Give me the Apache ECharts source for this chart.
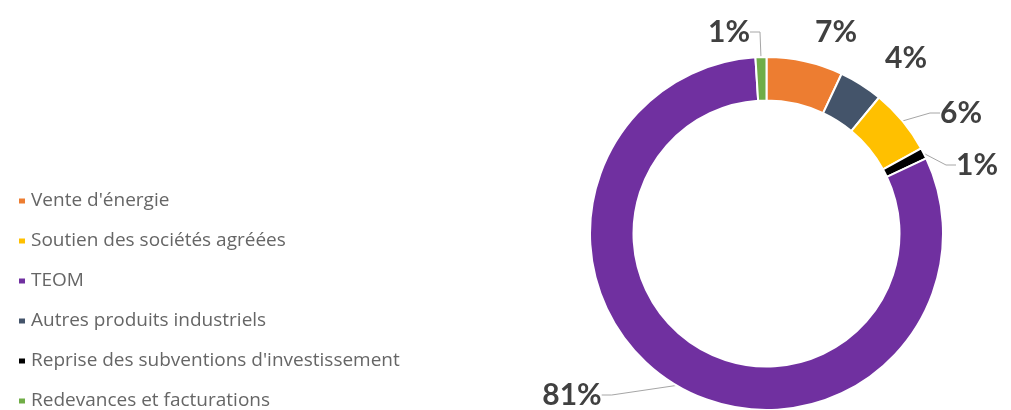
<!DOCTYPE html>
<html>
<head>
<meta charset="utf-8">
<script src="https://cdn.jsdelivr.net/npm/echarts@6/dist/echarts.min.js"></script>
<style>
  html, body { margin: 0; padding: 0; background: #ffffff; }
  #chart { width: 1011px; height: 410px; }
</style>
</head>
<body>
<div id="chart"></div>
<script>
// Slice order as drawn clockwise from 12 o'clock
const categories = [
  "Vente d'énergie",
  "Autres produits industriels",
  "Soutien des sociétés agréées",
  "Reprise des subventions d'investissement",
  "TEOM",
  "Redevances et facturations"
];
const values = [7, 4, 6, 1, 81, 1];
const colors = ["#ED7D31", "#44546A", "#FFC000", "#000000", "#7030A0", "#70AD47"];
const showLeader = [false, false, true, true, true, true];
// Legend order as shown in the reference
const legendOrder = [
  "Vente d'énergie",
  "Soutien des sociétés agréées",
  "TEOM",
  "Autres produits industriels",
  "Reprise des subventions d'investissement",
  "Redevances et facturations"
];

// label placement (center of text), in pixels
const labelPlacement = [
  [836, 32],
  [906, 58],
  [961, 113],
  [977, 165],
  [572, 395],
  [729, 32]
];

const chart = echarts.init(document.getElementById('chart'), null, { renderer: 'canvas' });

const seriesData = categories.map((name, i) => ({
  name: name,
  value: values[i],
  itemStyle: { color: colors[i] },
  labelLine: { show: showLeader[i] }
}));

chart.setOption({
  animation: false,
  backgroundColor: '#ffffff',
  legend: {
    orient: 'vertical',
    left: 12,
    top: 186,
    height: 224,
    data: legendOrder,
    icon: 'rect',
    itemWidth: 8,
    itemHeight: 7,
    itemGap: 20,
    itemTextGap: 6,
    selectedMode: false,
    textStyle: {
      fontFamily: 'Open Sans',
      fontSize: 19,
      lineHeight: 20,
      color: '#666666'
    }
  },
  series: [{
    type: 'pie',
    center: [766.5, 233.5],
    radius: [133, 176.5],
    startAngle: 90,
    clockwise: true,
    percentPrecision: 0,
    silent: true,
    itemStyle: { borderColor: '#ffffff', borderWidth: 2 },
    label: {
      show: true,
      position: 'outside',
      formatter: '{d}%',
      fontFamily: 'Lato',
      fontWeight: 'bold',
      fontSize: 30,
      color: '#404040'
    },
    labelLine: {
      show: true,
      length: 10,
      length2: 10,
      lineStyle: { color: '#a6a6a6', width: 1 }
    },
    labelLayout: function (params) {
      const p = labelPlacement[params.dataIndex];
      return { x: p[0], y: p[1], align: 'center', verticalAlign: 'middle' };
    },
    data: seriesData
  }]
});
</script>
</body>
</html>
